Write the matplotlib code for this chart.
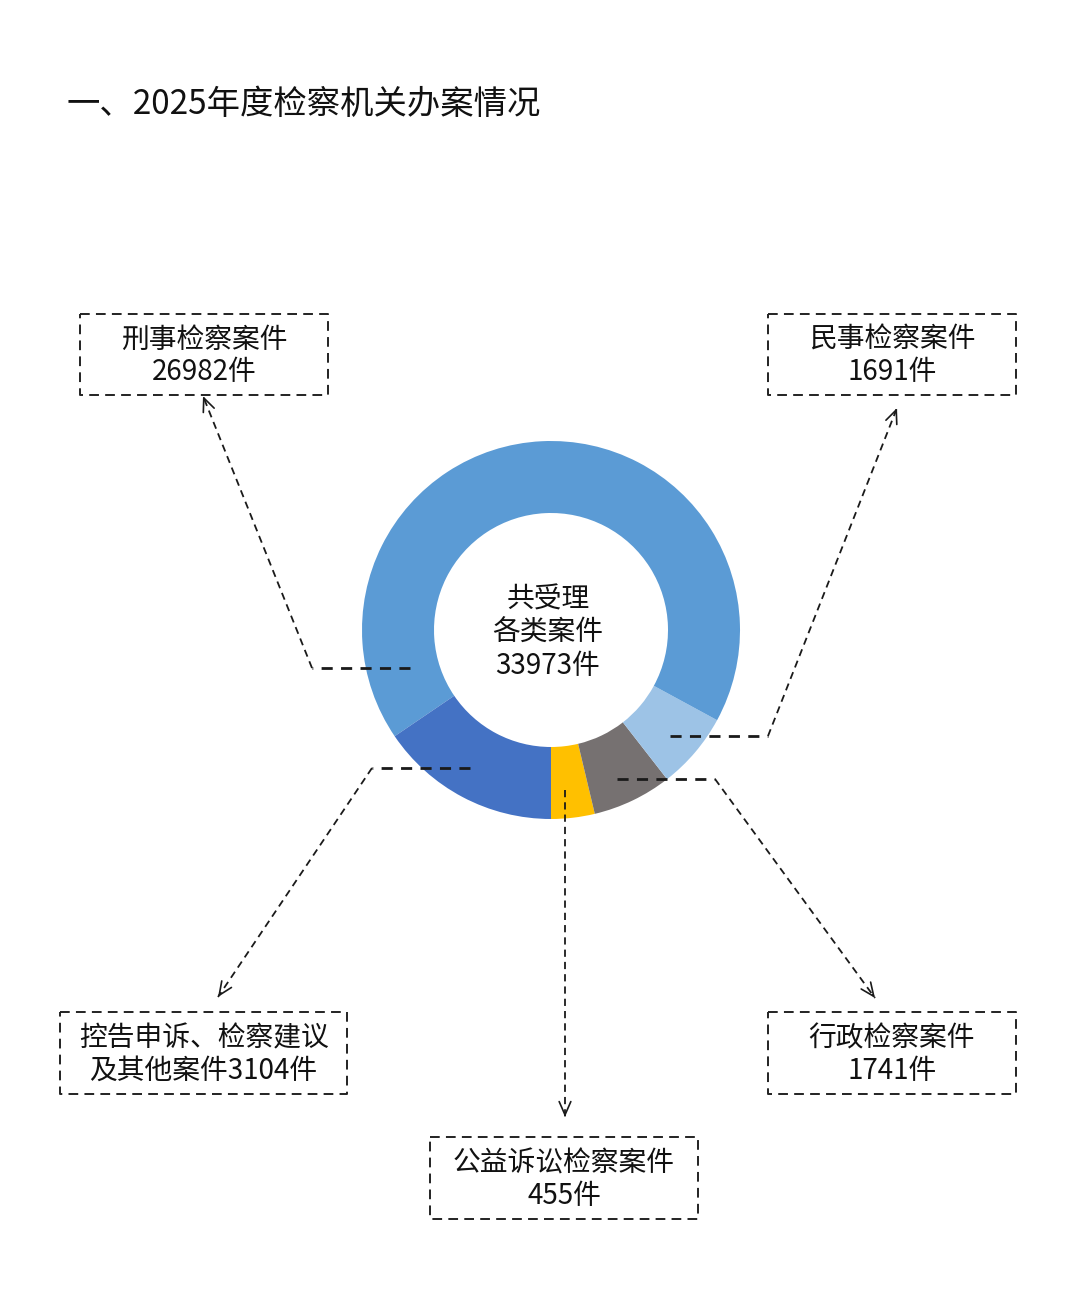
import matplotlib
matplotlib.use("Agg")
import matplotlib.pyplot as plt

plt.rcParams['font.family'] = ['Noto Sans CJK SC', 'DejaVu Sans']

# ---- data ----
title = "一、2025年度检察机关办案情况"
categories = ["公益诉讼检察案件", "行政检察案件", "民事检察案件", "刑事检察案件", "控告申诉、检察建议及其他案件"]
values = [455, 1741, 1691, 26982, 3104]
# share of the ring each slice occupies as drawn in the picture (degrees, not proportional to values)
slice_degrees = [13.4, 24.5, 23.6, 242.7, 55.8]
colors = ["#FFC000", "#767171", "#9DC3E6", "#5B9BD5", "#4472C4"]
label_line1 = ["公益诉讼检察案件", "行政检察案件", "民事检察案件", "刑事检察案件", "控告申诉、检察建议"]
label_line2_prefix = ["", "", "", "", "及其他案件"]
center_lines = ["共受理", "各类案件"]

W, H = 1080, 1291
fig = plt.figure(figsize=(W / 100, H / 100), dpi=100)
fig.patch.set_facecolor("white")
ax = fig.add_axes([0, 0, 1, 1])


def Y(y):
    return H - y


# donut
cx, cy, r_out, r_in = 551, 630, 189, 117
ax.pie(slice_degrees, colors=colors, startangle=-90, counterclock=True,
       center=(cx, Y(cy)), radius=r_out,
       wedgeprops=dict(width=r_out - r_in, linewidth=0), frame=True)
ax.set_xlim(0, W)
ax.set_ylim(0, H)
ax.set_aspect("equal")
ax.axis("off")

total = sum(values)
fs = 20
ax.text(548, Y(600), center_lines[0], ha="center", va="center", fontsize=fs, color="#111111")
ax.text(548, Y(633), center_lines[1], ha="center", va="center", fontsize=fs, color="#111111")
ax.text(548, Y(666), f"{total}件", ha="center", va="center", fontsize=fs, color="#111111")

# title
ax.text(67, Y(104), title, ha="left", va="center", fontsize=24, color="#111111")

# label boxes: (x0, y0, x1, y1) in image pixels, per category order
boxes = [(430, 1137, 698, 1219), (768, 1012, 1016, 1094), (768, 314, 1016, 395),
         (80, 314, 328, 395), (60, 1012, 347, 1094)]

for i, (x0, y0, x1, y1) in enumerate(boxes):
    xs = [x0, x1, x1, x0, x0]
    ys = [Y(y0), Y(y0), Y(y1), Y(y1), Y(y0)]
    ax.plot(xs, ys, color="#222222", lw=1.4, dashes=(5, 3.2))
    xc = (x0 + x1) / 2
    ym = (y0 + y1) / 2
    ax.text(xc, Y(ym - 15), label_line1[i], ha="center", va="center", fontsize=fs, color="#111111")
    ax.text(xc, Y(ym + 18), f"{label_line2_prefix[i]}{values[i]}件", ha="center", va="center",
            fontsize=fs, color="#111111")

# leader lines: (start, corner, arrow tip) in image px, per category order
leaders = [
    [(565, 790), (565, 790), (565, 1117)],
    [(617, 779), (715, 779), (875, 998)],
    [(670, 736), (768, 736), (897, 408)],
    [(410, 668), (312, 668), (203, 396)],
    [(470, 768), (372, 768), (218, 997)],
]
for (s, c, t) in leaders:
    if s != c:
        ax.plot([s[0], c[0]], [Y(s[1]), Y(c[1])], color="#1a1a1a", lw=2.0, dashes=(4, 3))
    ax.plot([c[0], t[0]], [Y(c[1]), Y(t[1])], color="#1a1a1a", lw=1.3, dashes=(4, 2.8))
    dx, dy = t[0] - c[0], t[1] - c[1]
    L = (dx ** 2 + dy ** 2) ** 0.5
    back = (t[0] - dx / L * 4, Y(t[1] - dy / L * 4))
    ax.annotate("", xy=(t[0], Y(t[1])), xytext=back,
                arrowprops=dict(arrowstyle="->,head_length=0.8,head_width=0.35",
                                color="#1a1a1a", lw=1.2, shrinkA=0, shrinkB=0,
                                mutation_scale=12))

fig.savefig("out.png", dpi=100, facecolor="white")
